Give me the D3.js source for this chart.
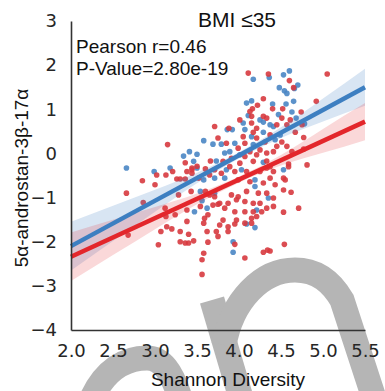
<!DOCTYPE html>
<html>
<head>
<meta charset="utf-8">
<script src="https://cdn.jsdelivr.net/npm/d3@7"></script>
<style>
  html, body { margin: 0; padding: 0; background: #fff; }
  svg { display: block; }
</style>
</head>
<body>
<svg id="chart" width="385" height="391"></svg>
<script>
// ---------- data ----------
const title = "BMI \u226435";
const xLabel = "Shannon Diversity";
const yLabel = "5\u03b1-androstan-3\u03b2-17\u03b1";
const statLines = ["Pearson r=0.46", "P-Value=2.80e-19"];

const xTicks = [2.0, 2.5, 3.0, 3.5, 4.0, 4.5, 5.0, 5.5];
const yTicks = [-4, -3, -2, -1, 0, 1, 2, 3];

const blueX = [3.58,3.69,3.41,3.50,3.34,3.46,3.73,2.66,3.18,4.60,4.53,4.17,4.36,4.70,4.66,4.48,4.54,4.57,
  4.15,4.09,4.40,4.65,4.56,4.47,4.11,4.25,4.05,4.29,4.63,4.68,4.37,3.92,3.86,4.07,4.29,4.41,4.78,4.15,4.49,
  3.95,4.17,4.43,3.79,3.89,3.83,4.01,4.29,2.99,3.50,3.58,3.71,3.54,3.71,3.56,3.47,3.62,3.85,3.83,4.03,4.19,
  4.19,4.35,4.09,4.19,3.93,3.93,4.21,4.53];
const blueY = [0.29,0.21,0.04,-0.02,-0.06,-0.18,-0.17,-0.33,-0.33,1.87,1.78,1.68,1.72,1.55,1.47,1.49,1.42,1.36,
  1.19,1.14,1.12,1.18,1.12,0.88,0.86,0.76,0.69,0.71,0.94,0.80,0.65,0.54,0.54,0.54,0.48,0.61,0.67,0.38,0.42,
  0.23,0.20,0.31,0.21,0.04,0.01,-0.03,-0.20,-0.41,-0.33,-0.60,-0.56,-0.86,-0.90,-1.07,-1.32,-1.24,-0.37,-0.56,-0.37,-0.60,
  -0.75,-1.01,-1.60,-1.68,-2.00,-2.24,-1.28,-0.37];

const redX = [3.71,3.75,3.15,3.36,3.66,3.44,4.11,4.35,4.60,5.05,4.65,4.92,4.29,4.22,4.16,4.52,4.40,4.13,4.15,4.29,
  4.33,4.01,4.15,4.51,4.74,4.61,4.45,3.88,4.21,4.17,4.57,4.75,4.05,4.21,4.37,4.67,4.77,3.85,4.07,4.31,
  4.51,4.45,3.99,4.13,4.25,4.33,4.41,4.57,4.07,4.21,4.17,3.91,3.81,4.01,4.33,4.59,4.81,4.37,3.02,3.13,
  3.21,2.85,3.26,3.30,3.36,3.38,3.44,3.60,3.44,3.52,3.71,3.65,2.66,3.28,3.43,3.60,3.65,3.71,3.12,3.38,
  3.69,3.75,3.24,2.68,3.14,3.20,3.07,3.30,3.40,3.58,3.59,3.62,3.73,3.75,3.30,3.36,3.40,3.46,3.04,3.63,
  3.58,3.56,3.56,2.86,3.13,3.79,3.89,3.95,3.99,4.09,4.13,4.25,4.33,4.37,4.29,4.41,4.53,4.59,4.43,4.53,
  4.62,3.91,3.99,4.09,4.23,4.33,4.41,3.77,3.87,3.97,4.07,4.17,4.25,4.41,4.33,4.71,3.83,3.95,4.07,4.17,
  4.27,4.53,3.81,3.97,4.15,4.21,3.77,3.87,3.95,4.07,4.15,3.87,3.95,4.07,4.29,4.34,4.37,4.54,4.55,4.63,
  4.77,3.00,3.54,3.63,3.38,3.50];
const redY = [0.61,0.35,0.20,-0.21,-0.17,-0.33,1.82,1.80,1.65,1.80,1.49,1.18,1.24,1.09,1.01,1.01,1.01,0.95,0.84,0.84,
  0.80,0.76,0.69,0.80,0.94,0.76,0.65,0.57,0.57,0.48,0.65,0.65,0.38,0.35,0.42,0.48,0.36,0.23,0.23,0.26,
  0.26,0.16,0.12,0.04,0.08,0.01,0.04,0.16,-0.07,-0.03,-0.18,-0.11,-0.18,-0.22,-0.17,-0.24,-0.26,-0.30,-0.49,-0.49,
  -0.41,-0.62,-0.58,-0.58,-0.58,-0.41,-0.37,-0.35,-0.45,-0.56,-0.37,-0.49,-0.90,-0.94,-0.86,-0.86,-0.94,-0.98,-1.24,-1.28,
  -1.17,-1.15,-1.39,-1.85,-1.66,-1.71,-1.77,-1.77,-1.83,-1.58,-1.47,-1.77,-1.77,-1.88,-2.00,-2.03,-2.03,-1.98,-2.07,-2.01,
  -2.26,-2.41,-2.74,-1.11,-1.43,-0.45,-0.30,-0.41,-0.60,-0.41,-0.64,-0.41,-0.33,-0.56,-0.67,-0.41,-0.56,-0.30,-0.71,-0.83,
  -0.88,-0.94,-0.98,-0.86,-0.90,-0.90,-1.01,-1.13,-1.13,-1.05,-1.09,-1.13,-1.13,-1.20,-1.24,-1.24,-1.24,-1.32,-1.32,-1.32,
  -1.32,-1.33,-1.51,-1.51,-1.47,-1.43,-1.62,-1.66,-1.60,-1.58,-1.58,-1.77,-2.06,-2.37,-2.24,-2.19,-2.21,-2.06,-0.60,0.04,
  0.10,-0.71,-1.20,-1.39,-1.54,-0.29];

// regression fits (values at x = 2.0 and 5.5) and confidence half-widths
const fitX = [2.0, 5.5];
const blueFit = [-2.10, 1.50];
const redFit = [-2.34, 0.72];
const bandX = [2.0, 2.5, 3.0, 3.5, 4.0, 4.5, 5.0, 5.5];
const blueHalf = [0.55, 0.40, 0.25, 0.12, 0.07, 0.12, 0.26, 0.42];
const redHalf = [0.55, 0.40, 0.25, 0.12, 0.07, 0.12, 0.27, 0.42];

// ---------- drawing ----------
const svg = d3.select("#chart");
const W = 385, H = 391;
const margin = {left: 71, right: 20, top: 21, bottom: 61};
const x = d3.scaleLinear().domain([2.0, 5.5]).range([margin.left, W - margin.right]);
const y = d3.scaleLinear().domain([-4, 3]).range([H - margin.bottom, margin.top]);

const BLUE = "#3d7fc1", RED = "#e3262b";
const BLUE_PT = "#4a86c4", RED_PT = "#d73a3f";

// decorative watermark strokes (grey, behind everything)
const wm = svg.append("g").attr("fill", "none").attr("stroke", "#b5b5b5").attr("stroke-width", 25);
wm.append("path").attr("d", "M212,300 L241,398");
wm.append("path").attr("d", "M224,345 C232,300 262,270 295,270 C318,270 332,283 342,300 L374,398");
wm.append("path").attr("d", "M92,398 C105,370 125,358 147,358 C162,358 172,372 180,398");

// points
const blue = blueX.map((v, i) => ({x: v, y: blueY[i]}));
const red = redX.map((v, i) => ({x: v, y: redY[i]}));

svg.append("g").selectAll("circle").data(blue).join("circle")
  .attr("cx", d => x(d.x)).attr("cy", d => y(d.y)).attr("r", 2.8)
  .attr("fill", BLUE_PT).attr("fill-opacity", 0.9);
svg.append("g").selectAll("circle").data(red).join("circle")
  .attr("cx", d => x(d.x)).attr("cy", d => y(d.y)).attr("r", 2.8)
  .attr("fill", RED_PT).attr("fill-opacity", 0.9);

// bands
function fitAt(fit, xv) {
  return fit[0] + (fit[1] - fit[0]) * (xv - fitX[0]) / (fitX[1] - fitX[0]);
}
const area = d3.area().curve(d3.curveNatural)
  .x(d => x(d.x)).y0(d => y(d.lo)).y1(d => y(d.hi));
const blueBand = bandX.map((v, i) => ({x: v, lo: fitAt(blueFit, v) - blueHalf[i], hi: fitAt(blueFit, v) + blueHalf[i]}));
const redBand = bandX.map((v, i) => ({x: v, lo: fitAt(redFit, v) - redHalf[i], hi: fitAt(redFit, v) + redHalf[i]}));
svg.append("path").datum(blueBand).attr("d", area).attr("fill", BLUE).attr("fill-opacity", 0.2);
svg.append("path").datum(redBand).attr("d", area).attr("fill", RED).attr("fill-opacity", 0.18);

// lines
const line = d3.line().x(d => x(d[0])).y(d => y(d[1]));
svg.append("path").datum(fitX.map((v, i) => [v, redFit[i]])).attr("d", line)
  .attr("stroke", RED).attr("stroke-width", 4.5).attr("fill", "none");
svg.append("path").datum(fitX.map((v, i) => [v, blueFit[i]])).attr("d", line)
  .attr("stroke", BLUE).attr("stroke-width", 4.5).attr("fill", "none");

// axes
const tickFont = "'DejaVu Sans', sans-serif";
const xAxis = svg.append("g").attr("transform", `translate(0,${y(-4)})`)
  .call(d3.axisBottom(x).tickValues(xTicks).tickFormat(d3.format(".1f")).tickSize(0).tickPadding(14));
const yAxis = svg.append("g").attr("transform", `translate(${x(2.0)},0)`)
  .call(d3.axisLeft(y).tickValues(yTicks).tickFormat(d3.format("d")).tickSize(0).tickPadding(14));
[xAxis, yAxis].forEach(g => {
  g.select(".domain").attr("stroke", "#333").attr("stroke-width", 1.6);
  g.selectAll("text").attr("font-family", tickFont).attr("font-size", 18).attr("fill", "#262626");
});

// texts
const sans = "'Liberation Sans', Arial, sans-serif";
svg.append("text").attr("x", 237).attr("y", 27).attr("text-anchor", "middle")
  .attr("font-family", sans).attr("font-size", 21).attr("fill", "#111").text(title);
statLines.forEach((t, i) => {
  svg.append("text").attr("x", 76).attr("y", 53 + i * 22)
    .attr("font-family", sans).attr("font-size", 19).attr("fill", "#111").text(t);
});
svg.append("text").attr("x", 228).attr("y", 386).attr("text-anchor", "middle")
  .attr("font-family", sans).attr("font-size", 19).attr("fill", "#111").text(xLabel);
svg.append("text").attr("transform", "translate(28,178) rotate(-90)").attr("text-anchor", "middle")
  .attr("font-family", sans).attr("font-size", 19).attr("fill", "#111").text(yLabel);
</script>
</body>
</html>
